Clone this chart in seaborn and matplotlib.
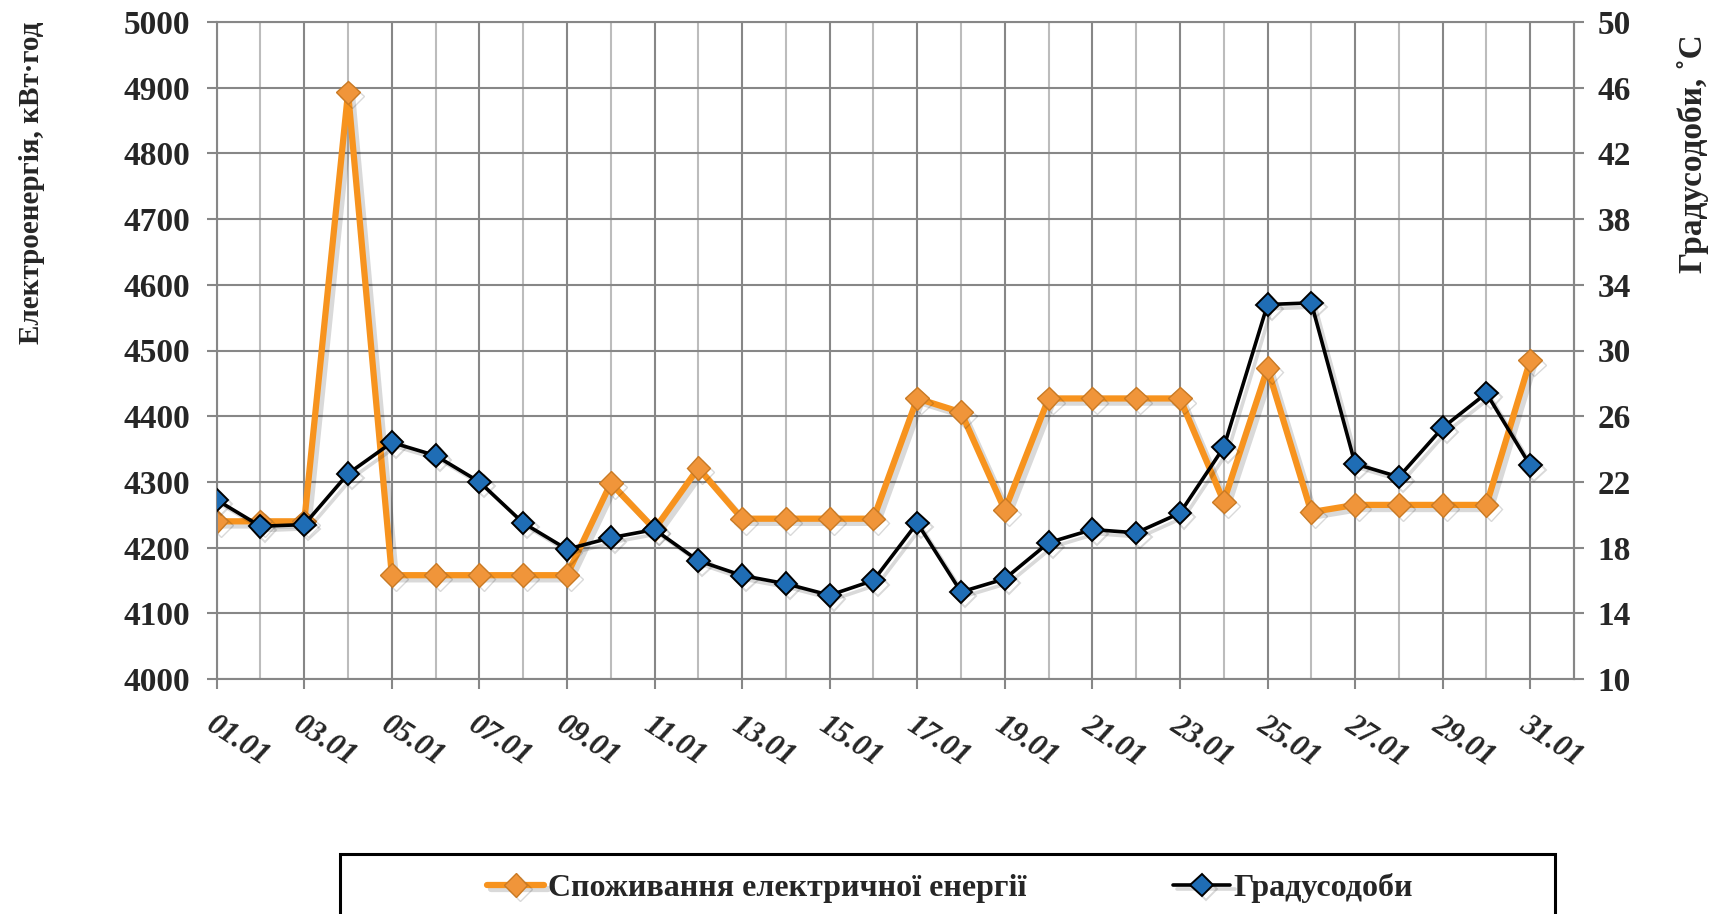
import pandas as pd
import seaborn as sns
import matplotlib.pyplot as plt
import matplotlib.patheffects as pe
from matplotlib.patches import Rectangle
from matplotlib.transforms import ScaledTranslation

# Data (January, daily)
days = [f"{d:02d}.01" for d in range(1, 32)]
energy = [4240, 4240, 4240, 4893, 4158, 4158, 4158, 4158, 4158, 4298,
          4228, 4321, 4244, 4244, 4244, 4244, 4427, 4406, 4257, 4427,
          4427, 4427, 4427, 4270, 4473, 4254, 4265, 4265, 4265, 4265,
          4485]
degree_days = [20.9, 19.3, 19.4, 22.5, 24.4, 23.6, 22.0, 19.5, 17.9, 18.6,
               19.1, 17.2, 16.3, 15.8, 15.1, 16.0, 19.5, 15.3, 16.1, 18.3,
               19.1, 18.9, 20.1, 24.1, 32.8, 32.9, 23.1, 22.3, 25.3, 27.4,
               23.0]

energy_label = 'Споживання електричної енергії'
dd_label = 'Градусодоби'

df = pd.DataFrame({'day': days, 'pos': range(len(days)),
                   'energy': energy, 'degree_days': degree_days})

sns.set_style("white")
plt.rcParams['font.family'] = ['Liberation Serif', 'DejaVu Serif']
plt.rcParams['font.weight'] = 'bold'

grid_dark = '#878787'
grid_light = '#bcbcbc'

fig = plt.figure(figsize=(17.18, 9.14), dpi=100)
ax = fig.add_axes([216.7 / 1718, 1 - 679 / 914, (1574 - 216.7) / 1718, (679 - 22) / 914])
ax2 = ax.twinx()

shadow = [pe.SimpleLineShadow(offset=(3, -3), shadow_color='black', alpha=0.15), pe.Normal()]

# electricity consumption (left axis)
sns.lineplot(data=df, x='pos', y='energy', ax=ax, color='#F7931E', lw=4.5,
             marker='D', markersize=12, markerfacecolor='#F0953A',
             markeredgecolor='#C97A24', markeredgewidth=1,
             path_effects=shadow, legend=False)

# degree-days (right axis)
sns.lineplot(data=df, x='pos', y='degree_days', ax=ax2, color='black', lw=2.6,
             marker='D', markersize=11.5, markerfacecolor='#1F6DB5',
             markeredgecolor='black', markeredgewidth=1.4,
             path_effects=shadow, legend=False)

ax.set_xlim(0, len(days))
ax.set_ylim(4000, 5000)
ax.set_yticks(range(4000, 5001, 100))
ax2.set_ylim(10, 50)
ax2.set_yticks(range(10, 51, 4))

ax.set_xticks(range(0, len(days), 2))
ax.set_xticks(range(1, len(days), 2), minor=True)
ax.set_xticklabels(days[::2], rotation=-33, ha='left', va='top',
                   rotation_mode='anchor', fontstyle='italic', fontsize=22)
shift = ScaledTranslation(8 / 100, 0, fig.dpi_scale_trans)
for lbl in ax.get_xticklabels():
    lbl.set_transform(lbl.get_transform() + shift)

ax.set_axisbelow(True)
ax.grid(axis='y', color=grid_dark, lw=1.5)
ax.grid(axis='x', which='major', color=grid_dark, lw=1.5)
ax.grid(axis='x', which='minor', color=grid_light, lw=1.5)

ax.tick_params(axis='x', which='major', direction='out', length=7, width=1.5,
               color=grid_dark, pad=16, bottom=True)
ax.tick_params(axis='x', which='minor', length=0)
ax.tick_params(axis='y', direction='out', length=7, width=1.5, color=grid_dark,
               pad=12, labelsize=24, left=True)
ax2.tick_params(axis='y', direction='out', length=7, width=1.5, color=grid_dark,
                pad=10, labelsize=24, right=True)

for s in ax.spines.values():
    s.set_color(grid_dark)
    s.set_linewidth(1.5)
for name, s in ax2.spines.items():
    s.set_visible(name == 'right')
    s.set_color(grid_dark)
    s.set_linewidth(1.5)

ax.set_xlabel('')
ax.set_ylabel('')
ax2.set_ylabel('')

fig.text(32 / 1718, 1 - 22 / 914, 'Електроенергія, кВт·год', rotation=90,
         ha='center', va='top', fontsize=21, fontweight='bold')
fig.text(1693 / 1718, 1 - 34 / 914, 'Градусодоби, ˚С', rotation=90,
         ha='center', va='top', fontsize=24, fontweight='bold')

# legend box, cut by the bottom edge as in the original
fig.patches.append(Rectangle((340 / 1718, -0.02), 1215 / 1718, 0.02 + 60 / 914,
                             transform=fig.transFigure, fill=False,
                             edgecolor='black', lw=2.2))
handles = [ax.lines[0], ax2.lines[0]]
fig.legend(handles, [energy_label, dd_label], loc='center',
           bbox_to_anchor=(950 / 1718, 1 - 888 / 914), ncol=2, frameon=False,
           fontsize=23, handlelength=1.8, handletextpad=0.1, columnspacing=4.6,
           borderaxespad=0)

fig.savefig('out.png', dpi=100)
